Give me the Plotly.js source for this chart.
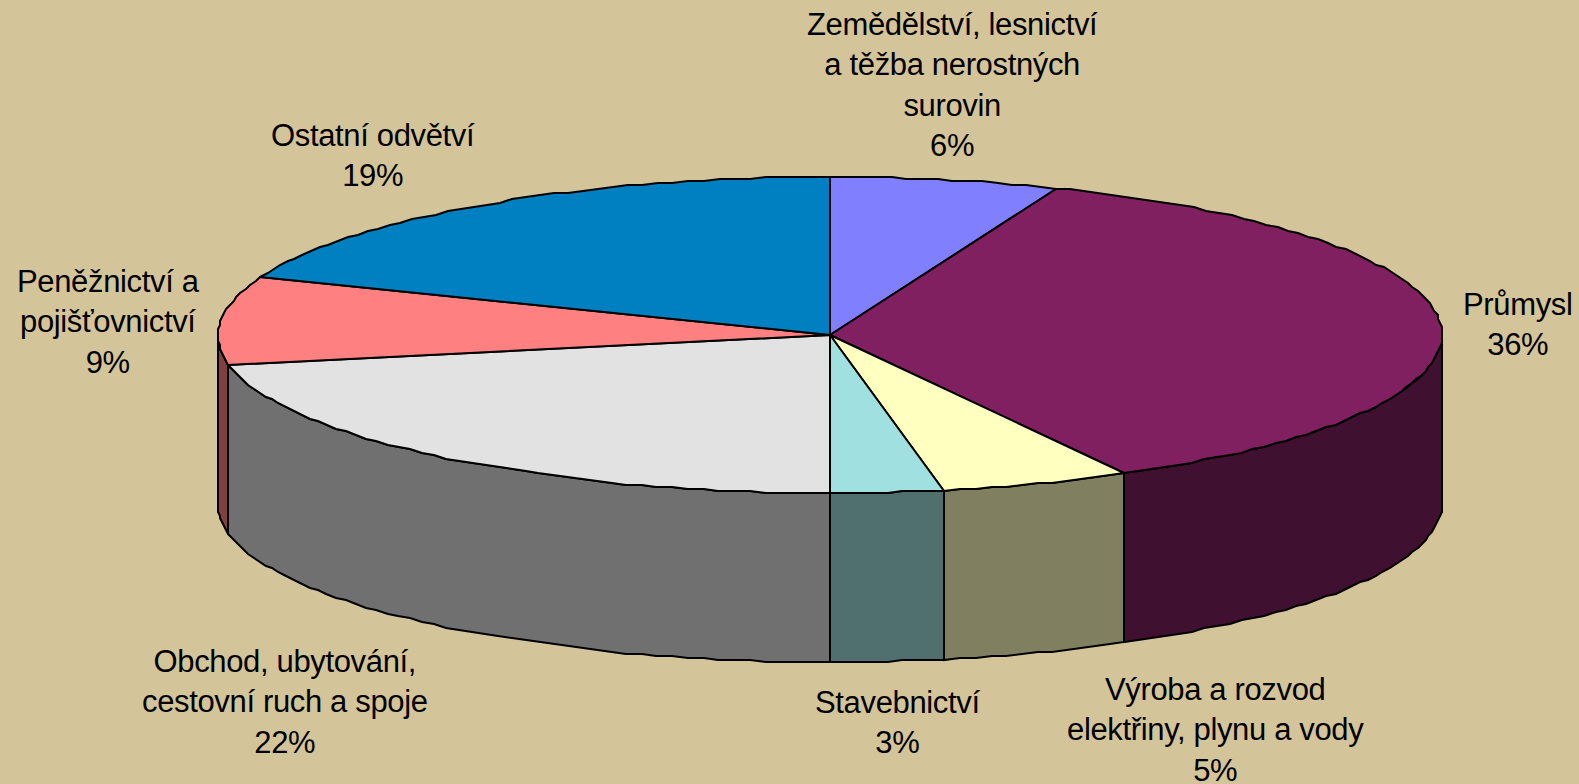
<!DOCTYPE html>
<html><head><meta charset="utf-8">
<script src="https://cdn.plot.ly/plotly-3.0.1.min.js"></script>
<style>html,body{margin:0;padding:0;background:#D4C49A}
.annotation-text{letter-spacing:-0.35px}</style></head>
<body><div id="chart" style="width:1579px;height:784px"></div>
<script>
const categories = ["Zemědělství, lesnictví<br>a těžba nerostných<br>surovin","Průmysl","Výroba a rozvod<br>elektřiny, plynu a vody","Stavebnictví","Obchod, ubytování,<br>cestovní ruch a spoje","Peněžnictví a<br>pojišťovnictví","Ostatní odvětví"];
const shares = [6,36,5,3,22,9,19];
const topColors = ["#8080FF","#802060","#FFFFC0","#A0E0E0","#E2E2E2","#FF8080","#0080C0"];
const sideColors = ["#404080","#401030","#808060","#507070","#707070","#804040","#004060"];
const labelX = [952,1518,1215,897,285,108,373];
const labelY = [85,324.5,730,722,702,322,155.5];

const cx=830, cy=335, rx=612, ry=158, depth=169, grid=2;
const total = shares.reduce((a,b)=>a+b,0);
const snap = (v,o) => o + Math.round((v-o)/grid)*grid;
const px = d => snap(cx + rx*Math.sin(d*Math.PI/180),cx);
const py = d => snap(cy - ry*Math.cos(d*Math.PI/180),cy);
function arc(a,b){ const out=[]; const n=Math.max(2,Math.ceil((b-a)/1.5)); for(let i=0;i<=n;i++) out.push(a+(b-a)*i/n); return out; }
const sideTraces=[], topTraces=[];
let cum=0;
shares.forEach((v,i)=>{
  const a=cum/total*360, b=(cum+v)/total*360; cum+=v;
  const sa=Math.max(a,90), sb=Math.min(b,270);
  if(sb>sa){
    const t=arc(sa,sb);
    sideTraces.push({x:[...t.map(px),...t.slice().reverse().map(px),px(t[0])],
      y:[...t.map(py),...t.slice().reverse().map(d=>py(d)+depth),py(t[0])],
      mode:'lines',fill:'toself',fillcolor:sideColors[i],line:{color:'#000',width:2},hoverinfo:'skip'});
  }
  const t=arc(a,b);
  topTraces.push({x:[cx,...t.map(px),cx],y:[cy,...t.map(py),cy],
    mode:'lines',fill:'toself',fillcolor:topColors[i],line:{color:'#000',width:2},hoverinfo:'skip'});
});
const annotations=categories.map((c,i)=>({x:labelX[i],y:labelY[i],xref:'x',yref:'y',text:c+'<br>'+shares[i]+'%',
  showarrow:false,align:'center',xanchor:'center',yanchor:'middle',
  font:{family:'Liberation Sans, Arial, sans-serif',size:31,color:'#000'}}));
const hidden={visible:false,showgrid:false,zeroline:false,fixedrange:true};
Plotly.newPlot('chart',[...sideTraces,...topTraces],{
  width:1579,height:784,margin:{l:0,r:0,t:0,b:0},showlegend:false,
  paper_bgcolor:'#D4C49A',plot_bgcolor:'#D4C49A',
  xaxis:{...hidden,range:[0,1579]},yaxis:{...hidden,range:[784,0]},annotations
},{displayModeBar:false,staticPlot:true});
</script></body></html>
